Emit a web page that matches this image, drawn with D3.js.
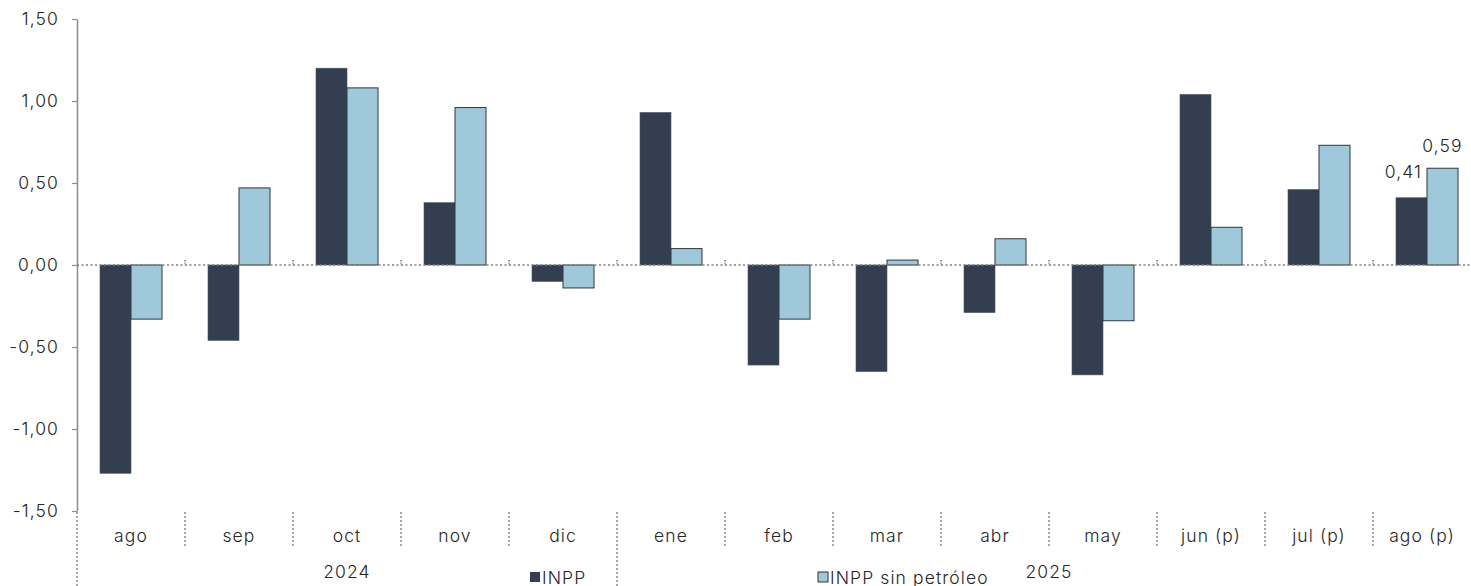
<!DOCTYPE html>
<html><head><meta charset="utf-8">
<script src="https://cdn.jsdelivr.net/npm/d3@7"></script>
<style>
body{margin:0;background:#fff;}
text{font-family:Inter,sans-serif;font-weight:300;fill:#262626;letter-spacing:1.1px;}
</style></head><body>
<svg id="c" width="1471" height="586"></svg>
<script>
const categories = ["ago","sep","oct","nov","dic","ene","feb","mar","abr","may","jun (p)","jul (p)","ago (p)"];
const years = [{label:"2024", from:0, to:5},{label:"2025", from:5, to:13}];
const inpp = [-1.27,-0.46,1.20,0.38,-0.10,0.93,-0.61,-0.65,-0.29,-0.67,1.04,0.46,0.41];
const inppSinPetroleo = [-0.33,0.47,1.08,0.96,-0.14,0.10,-0.33,0.03,0.16,-0.34,0.23,0.73,0.59];
const yTicks = [1.5,1.0,0.5,0,-0.5,-1.0,-1.5];
const seriesNames = ["INPP","INPP sin petróleo"];
const colors = ["#333f50","#9fc9da"];

const W = 1471, H = 586;
const FS = 17.5;
const svg = d3.select("#c");
const mLeft = 77, mRight = 1481, mTop = 19, mBottom = 511;
const x = d3.scaleBand().domain(d3.range(categories.length)).range([mLeft,mRight]).paddingInner(0).paddingOuter(0);
const y = d3.scaleLinear().domain([-1.5,1.5]).range([mBottom,mTop]);
const fmt = v => d3.format(".2f")(v).replace(".",",").replace("−","-");
const bw = x.bandwidth();
const barW = 31;
const xs = d3.scaleBand().domain([0,1]).range([0,barW*2]);

// y axis
const ya = svg.append("g").attr("transform",`translate(${mLeft},0)`)
  .call(d3.axisLeft(y).tickValues(yTicks).tickFormat(fmt).tickSize(5).tickSizeOuter(0));
ya.select(".domain").attr("stroke","#8c8c8c").attr("stroke-width",1.5);
ya.selectAll(".tick line").attr("stroke","#8c8c8c").attr("stroke-width",1.2);
ya.selectAll(".tick text").attr("font-size",FS).attr("x",-18).attr("fill","#262626")
  .style("font-family","Inter,sans-serif").style("font-weight",300);

// bars
const groups = svg.append("g").selectAll("g").data(categories).join("g")
  .attr("transform",(d,i)=>`translate(${x(i)+bw/2-barW},0)`);
[inpp,inppSinPetroleo].forEach((arr,s)=>{
  groups.append("rect")
    .attr("x",xs(s)).attr("width",barW)
    .attr("y",(d,i)=>y(Math.max(0,arr[i])))
    .attr("height",(d,i)=>Math.abs(y(arr[i])-y(0)))
    .attr("fill",colors[s])
    .attr("stroke",s===0?"#4a5566":"#2f3640")
    .attr("stroke-width",s===0?0.6:1);
});

// zero line
svg.append("line").attr("x1",mLeft).attr("x2",W).attr("y1",y(0)).attr("y2",y(0))
  .attr("stroke","#7f7f7f").attr("stroke-width",1.5).attr("stroke-dasharray","2,2.5");
// small ticks at boundaries on zero line
svg.append("g").selectAll("line").data(d3.range(1,categories.length)).join("line")
  .attr("x1",i=>x(i)).attr("x2",i=>x(i)).attr("y1",y(0)-5).attr("y2",y(0))
  .attr("stroke","#666").attr("stroke-width",1.5).attr("stroke-dasharray","1.2,1.2");

// category separators
svg.append("g").selectAll("line").data(d3.range(0,categories.length)).join("line")
  .attr("x1",i=>x(i)).attr("x2",i=>x(i))
  .attr("y1",mBottom+1)
  .attr("y2",i=>years.some(yy=>yy.from===i)?H:548)
  .attr("stroke","#8c8c8c").attr("stroke-width",1.5).attr("stroke-dasharray","2,2");

// category labels
svg.append("g").selectAll("text").data(categories).join("text")
  .attr("x",(d,i)=>(x(i)+Math.min(x(i)+bw,W))/2)
  .attr("y",536).attr("dy","0.35em").attr("text-anchor","middle").attr("font-size",FS)
  .text(d=>d);

// year labels
svg.append("g").selectAll("text").data(years).join("text")
  .attr("x",d=>(x(d.from)+(d.to<categories.length?x(d.to):mRight))/2)
  .attr("y",572).attr("dy","0.35em").attr("text-anchor","middle").attr("font-size",FS)
  .text(d=>d.label);

// data labels for last category
const li = categories.length-1;
svg.append("text").attr("x",x(li)+bw/2-5).attr("y",y(inpp[li])-26).attr("dy","0.35em")
  .attr("text-anchor","end").attr("font-size",FS).text(fmt(inpp[li]));
svg.append("text").attr("x",x(li)+bw/2+barW/2).attr("y",y(inppSinPetroleo[li])-22).attr("dy","0.35em")
  .attr("text-anchor","middle").attr("font-size",FS).text(fmt(inppSinPetroleo[li]));

// legend
const legendX = [530,818];
seriesNames.forEach((n,s)=>{
  const g = svg.append("g").attr("transform",`translate(${legendX[s]},572)`);
  g.append("rect").attr("x",0).attr("y",0).attr("width",10).attr("height",10)
    .attr("fill",colors[s]).attr("stroke",s===0?"none":"#333").attr("stroke-width",1);
  g.append("text").attr("x",12).attr("y",5).attr("dy","0.38em").attr("font-size",FS).text(n);
});
</script></body></html>
